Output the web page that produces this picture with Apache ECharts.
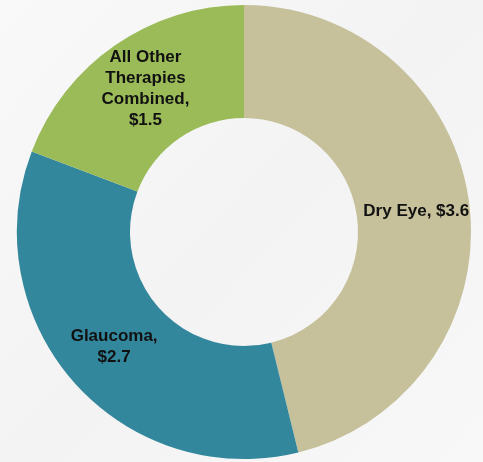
<!DOCTYPE html>
<html>
<head>
<meta charset="utf-8">
<script src="https://cdn.jsdelivr.net/npm/echarts@6/dist/echarts.min.js"></script>
<style>
html,body{margin:0;padding:0;background:#f6f6f6;}
#c{width:483px;height:462px;}
</style>
</head>
<body>
<div id="c"></div>
<script>
const categories = ["Dry Eye", "Glaucoma", "All Other\nTherapies\nCombined"];
const values = [3.6, 2.7, 1.5];
const colors = ["#c6c09b", "#33879d", "#9bbb59"];

const chart = echarts.init(document.getElementById('c'));
chart.setOption({
  backgroundColor: {
    type: 'linear', x: 0, y: 0, x2: 1, y2: 1,
    colorStops: [
      {offset: 0, color: '#f9f9f9'},
      {offset: 0.5, color: '#f3f3f3'},
      {offset: 1, color: '#f8f8f8'}
    ]
  },
  series: [{
    type: 'pie',
    center: [244, 232],
    radius: [114, 227],
    startAngle: 90,
    clockwise: true,
    silent: true,
    data: categories.map((n, i) => ({
      name: n, value: values[i], itemStyle: {color: colors[i]}
    })),
    label: {
      show: true,
      position: 'inside',
      formatter: p => p.dataIndex === 0
        ? p.name + ', $' + p.value.toFixed(1)
        : p.name + ',\n$' + p.value.toFixed(1),
      color: '#111111',
      fontFamily: 'Liberation Sans, Arial, sans-serif',
      fontWeight: 'bold',
      fontSize: 17,
      lineHeight: 21,
      align: 'center'
    },
    labelLine: {show: false},
    itemStyle: {borderWidth: 0}
  }]
});
</script>
</body>
</html>
